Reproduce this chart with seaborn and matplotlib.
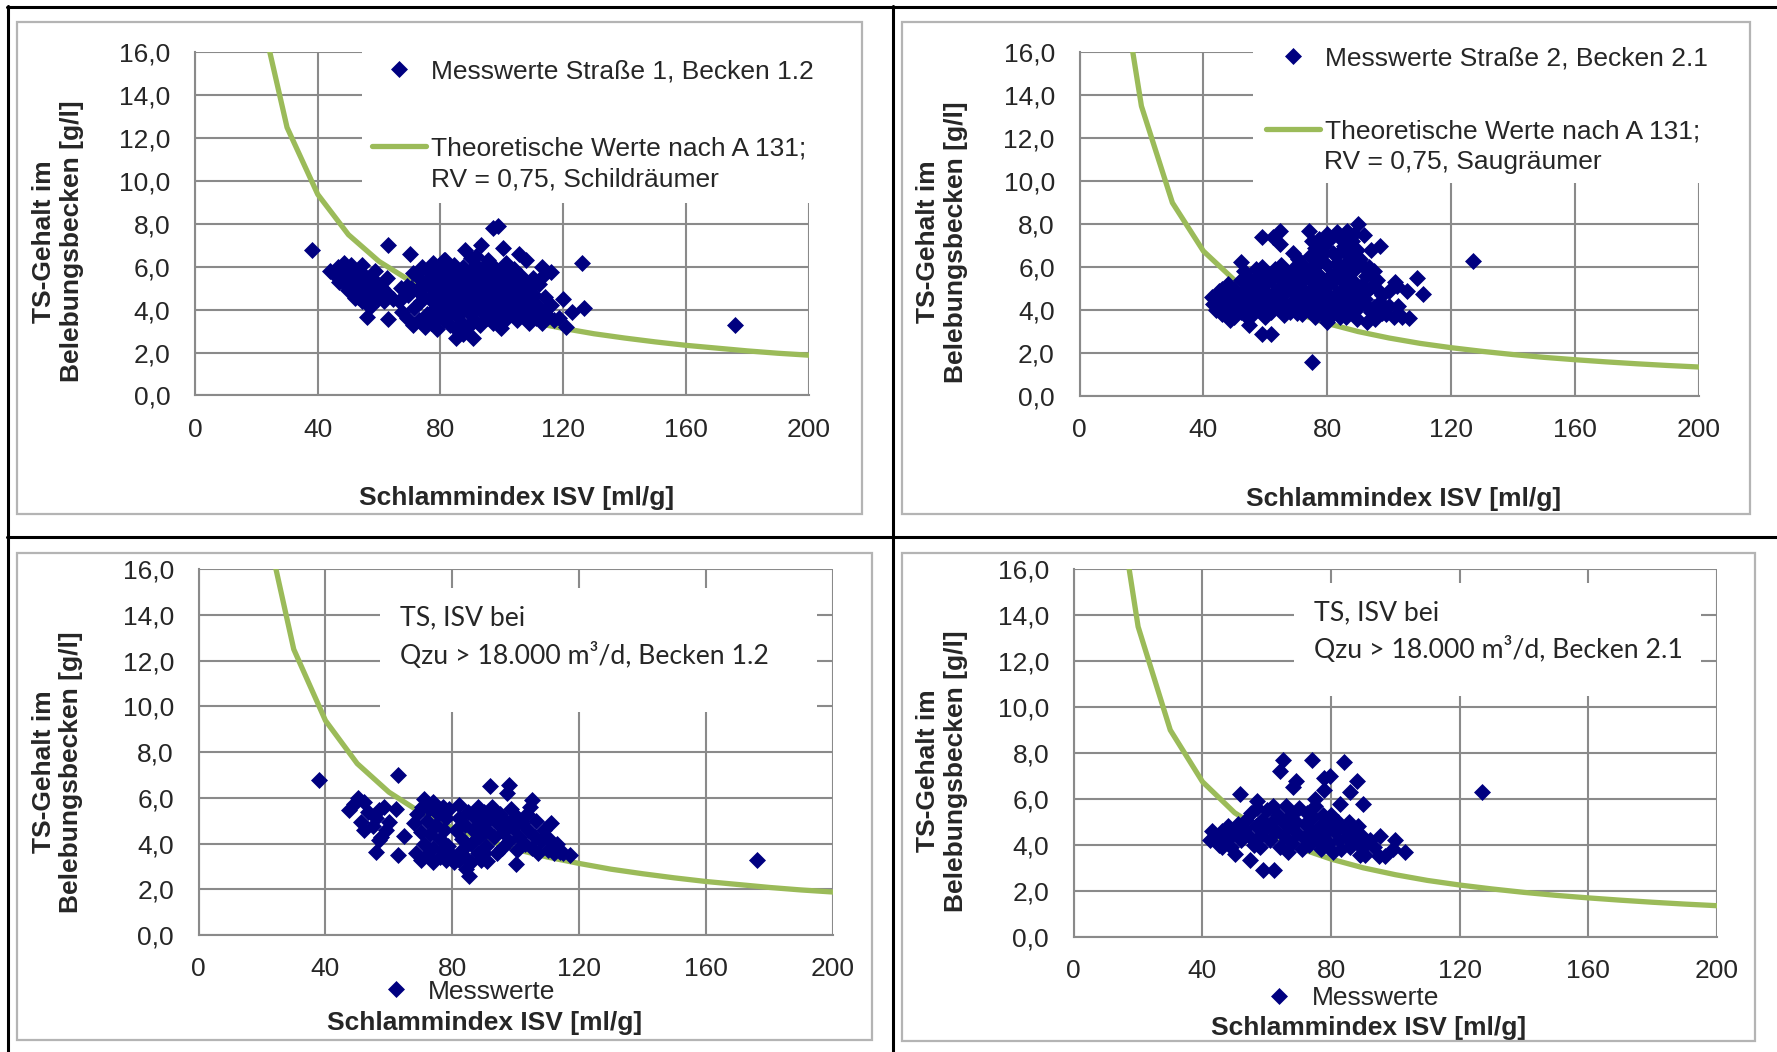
import matplotlib
matplotlib.use("Agg")
import matplotlib.pyplot as plt
from matplotlib.patches import Rectangle
from matplotlib.lines import Line2D
from matplotlib.ticker import MultipleLocator, FuncFormatter
import seaborn as sns

sns.set_style("white")
plt.rcParams['font.family'] = ['Liberation Sans', 'DejaVu Sans']

NAVY = '#000080'
GREEN = '#9BBB59'
GRID = '#8a8a8a'
FRAME = '#b4b4b4'

# --- theoretical curves (A 131, RV = 0,75) ---
isv_schild = [20, 30, 40, 50, 60, 70, 80, 90, 100, 110, 120, 130, 140, 150, 160, 170, 180, 190, 200]
ts_schild = [18.75, 12.5, 9.38, 7.5, 6.25, 5.36, 4.69, 4.17, 3.75, 3.41, 3.13, 2.88, 2.68, 2.5, 2.34,
             2.21, 2.08, 1.97, 1.88]
isv_saug = [15, 20, 30, 40, 50, 60, 70, 80, 90, 100, 110, 120, 130, 140, 150, 160, 170, 180, 190, 200]
ts_saug = [18.0, 13.5, 9.0, 6.75, 5.4, 4.5, 3.86, 3.38, 3.0, 2.7, 2.45, 2.25, 2.08, 1.93, 1.8,
           1.69, 1.59, 1.5, 1.42, 1.35]

mess_b12 = [
    (38, 6.8), (63, 7.0), (97, 7.8), (98.7, 7.9), (126, 6.2), (88, 6.8), (81, 6.3), (70, 6.6),
    (93.3, 7.0), (91.7, 6.5), (100.3, 6.9), (105.7, 6.6), (108, 6.3), (113, 6.0), (116, 5.75),
    (113.3, 5.55), (119.8, 4.5), (126.8, 4.1), (122.8, 3.9), (120.9, 3.2), (118.7, 3.6), (56, 3.65),
    (63, 3.55), (85.2, 2.7), (87.4, 2.85), (90.6, 2.7), (99.8, 3.15), (176, 3.3),
    (44, 5.8), (45.5, 5.6), (46.5, 6.0), (47.5, 5.7), (48.5, 6.2), (49.5, 5.9), (50.5, 5.6), (51, 6.1),
    (52, 5.4), (53, 5.8), (54.5, 6.1), (54, 5.3), (55, 5.6), (56, 5.1), (57, 5.5), (58, 4.9), (59, 5.3),
    (60, 4.7), (61, 5.0), (62.5, 5.5), (47, 5.3), (48, 5.5), (49, 5.2), (50, 4.9), (51.5, 5.0), (53, 4.6),
    (54.5, 4.4), (56.5, 4.3), (57.5, 4.6), (59.5, 4.5), (57, 4.15), (52, 4.55), (55, 4.9), (52.5, 5.2),
    (58.5, 5.8), (61.5, 4.4), (62.5, 4.8), (64.5, 4.5),
    (66.5, 4.4), (67.5, 3.9), (67, 5.0), (69, 3.6), (69.5, 4.7), (69, 5.1),
    (71, 3.3), (71.5, 4.1), (70.5, 5.0), (71, 5.7), (73, 3.5), (73.5, 4.4), (72.5, 4.9), (73, 5.5), (74, 6.0),
    (75, 3.2), (75.5, 3.8), (74.5, 4.6), (75, 5.2), (76, 5.8), (77, 3.4), (77.5, 4.0), (76.5, 4.5), (77, 5.0),
    (78, 5.5), (77.5, 6.2), (79, 3.1), (79.5, 3.7), (78.5, 4.3), (79, 4.8), (80, 5.3), (79.5, 5.9),
    (81, 3.5), (81.5, 4.1), (80.5, 4.6), (81, 5.1), (82, 5.6), (81.5, 6.3), (83, 3.3), (83.5, 3.9),
    (82.5, 4.4), (83, 4.9), (84, 5.4), (83.5, 5.9), (85, 3.1), (85.5, 3.7), (84.5, 4.2), (85, 4.7),
    (86, 5.2), (85.5, 5.7), (84.5, 6.1), (87, 3.4), (87.5, 4.0), (86.5, 4.5), (87, 5.0), (88, 5.5),
    (87.5, 6.0), (89, 3.2), (89.5, 3.8), (88.5, 4.3), (89, 4.8), (90, 5.3), (89.5, 5.8), (90, 6.4),
    (91, 3.5), (91.5, 4.1), (90.5, 4.6), (91, 5.1), (92, 5.6), (91.5, 6.1), (93, 3.3), (93.5, 3.9),
    (92.5, 4.4), (93, 4.9), (94, 5.4), (93.5, 5.9), (95, 3.6), (95.5, 4.2), (94.5, 4.7), (95, 5.2),
    (96, 5.7), (95.5, 6.3), (97, 3.4), (97.5, 4.0), (96.5, 4.5), (97, 5.0), (98, 5.5), (97.5, 6.0),
    (99, 3.7), (99.5, 4.3), (98.5, 4.8), (99, 5.3), (100, 5.8), (101, 3.5), (101.5, 4.1), (100.5, 4.6),
    (101, 5.1), (102, 5.6), (101.5, 6.2), (103, 3.8), (103.5, 4.4), (102.5, 4.9), (103, 5.4), (104, 5.9),
    (105, 3.5), (105.5, 4.1), (104.5, 4.6), (105, 5.1), (106, 5.6), (107, 3.7), (107.5, 4.3), (106.5, 4.8),
    (107, 5.3), (109, 3.4), (109.5, 4.0), (108.5, 4.5), (109, 5.0), (110, 5.5), (111, 3.6), (111.5, 4.2),
    (110.5, 4.7), (112, 5.2), (113, 3.4), (113.5, 3.9), (114, 4.6), (115, 3.7), (116, 4.2), (117, 3.5),
]

mess_b21 = [
    (127, 6.3), (75, 1.6), (59, 2.9), (62, 2.9), (90, 8.0), (74, 7.7), (64.8, 7.7), (59, 7.4), (80, 7.55),
    (83, 7.65), (86.5, 7.7), (88.5, 7.55), (92, 7.5), (97, 7.0), (94, 6.8), (69, 6.65), (70.7, 6.4),
    (64.8, 7.1), (62.6, 7.4), (76.7, 6.8), (78.8, 6.65), (82, 6.65), (84.2, 6.7), (86.4, 7.1), (87.4, 6.9),
    (52, 6.25), (71.8, 6.15), (109, 5.5), (102, 5.3), (102.5, 5.1), (105.8, 4.9), (110.9, 4.75), (95, 5.8),
    (93.4, 6.0), (91.2, 6.1), (96, 5.4), (97.7, 4.7), (99.8, 4.2), (92.3, 4.5), (95, 4.15), (97.7, 3.85),
    (101.5, 3.7), (106.3, 3.65), (89.6, 3.6), (92.8, 3.45), (42.7, 4.6), (43.2, 4.3), (48.6, 3.55),
    (54.9, 3.3), (53.5, 3.75), (65.9, 3.75), (70.2, 3.85), (79.9, 3.45), (84.2, 3.7),
    (75, 7.2), (76, 6.9), (77.5, 7.3), (79, 7.0), (81, 7.3), (84, 7.35), (85.5, 7.0), (88, 7.2), (89.5, 6.8),
    (90.5, 6.4), (88.5, 6.2), (87, 6.5), (78, 6.3), (74.5, 6.5), (76, 6.1), (80, 6.1), (83, 6.2),
    (85.5, 6.1), (89, 5.9), (92.5, 5.6), (94.5, 5.1), (93, 4.9),
    (44, 4.0), (44.5, 4.5), (45, 4.9), (46, 3.8), (46.5, 4.3), (47, 4.8), (46, 5.0), (48, 4.0), (48.5, 4.5),
    (49, 5.0), (48, 5.2), (50, 3.7), (50.5, 4.2), (51, 4.7), (50, 5.0), (52, 3.9), (52.5, 4.4), (53, 4.9),
    (52, 5.4), (53, 5.8), (54, 4.1), (54.5, 4.6), (55, 5.1), (54, 5.6), (56, 3.8), (56.5, 4.3), (57, 4.8),
    (56, 5.3), (57, 5.9), (58, 4.0), (58.5, 4.5), (59, 5.0), (58, 5.5), (59, 6.0), (60, 3.7), (60.5, 4.2),
    (61, 4.7), (60, 5.2), (61, 5.7), (62, 3.9), (62.5, 4.4), (63, 4.9), (62, 5.4), (63, 5.9), (64, 4.1),
    (64.5, 4.6), (65, 5.1), (64, 5.6), (65, 6.1), (66, 4.3), (66.5, 4.8), (67, 5.3), (66, 5.8), (68, 3.9),
    (68.5, 4.4), (69, 4.9), (68, 5.4), (69, 5.9), (70, 4.1), (70.5, 4.6), (71, 5.1), (70, 5.6), (72, 3.8),
    (72.5, 4.3), (73, 4.8), (72, 5.3), (73, 5.8), (74, 4.0), (74.5, 4.5), (75, 5.0), (74, 5.5), (76, 3.7),
    (76.5, 4.2), (77, 4.7), (76, 5.2), (77, 5.7), (78, 3.9), (78.5, 4.4), (79, 4.9), (78, 5.4), (80, 3.6),
    (80.5, 4.1), (81, 4.6), (80, 5.1), (81, 5.6), (82, 3.8), (82.5, 4.3), (83, 4.8), (82, 5.3), (83, 5.8),
    (84, 4.0), (84.5, 4.5), (85, 5.0), (84, 5.5), (86, 3.7), (86.5, 4.2), (87, 4.7), (86, 5.2), (87, 5.7),
    (88, 3.9), (88.5, 4.4), (89, 4.9), (88, 5.4), (90, 4.1), (90.5, 4.6), (91, 5.1),
    (93, 4.2), (95.5, 3.6), (97, 4.4), (99, 3.8), (100, 4.9), (103, 4.2), (104, 3.7), (96, 5.0), (94, 3.9),
]

mess_b12_q = [
    (38, 6.8), (63, 7.0), (91.8, 6.5), (97.8, 6.55), (97.3, 6.2), (105, 5.9), (85.4, 2.6), (84.2, 2.9),
    (100, 3.1), (56, 3.65), (63, 3.5), (91, 3.25), (117, 3.5), (114, 3.65), (71, 5.95), (82, 5.7), (176, 3.3),
    (50.2, 6.0), (49.1, 5.75), (47.5, 5.45), (52.3, 5.8), (53.3, 5.4), (51.2, 4.95), (52.3, 4.6), (57, 5.45),
    (58.5, 5.6), (55.9, 5.1), (60, 4.95), (57.5, 4.3), (57, 4.15), (62.2, 5.5), (64.8, 4.35), (54.9, 4.75),
    (59.1, 4.6),
    (68, 4.9), (69, 5.3), (70, 4.5), (70.5, 5.6), (71, 4.0), (72, 5.0), (72.5, 5.5), (73, 4.4), (74, 3.8),
    (74, 5.8), (75, 4.8), (75.5, 5.3), (76, 4.2), (77, 5.6), (77.5, 4.6), (78, 5.1), (78.5, 3.9), (79, 5.5),
    (68.5, 3.6), (70, 3.3), (72, 3.5), (74, 3.2), (76, 3.4), (78, 3.3), (80, 3.5), (82, 3.3), (84, 3.4),
    (86, 3.2), (88, 3.6), (89, 3.3), (77, 3.7), (80.5, 3.2), (83, 3.7),
    (81, 4.6), (82, 5.1), (83, 4.2), (84, 4.8), (85, 5.4), (86, 4.0), (86.5, 4.6), (87, 5.1), (88, 5.6),
    (88.5, 4.3), (89, 4.9), (90, 5.4), (90.5, 3.9), (91, 4.6), (92, 5.1), (92.5, 5.6), (93, 4.3), (94, 4.9),
    (95, 5.3), (95.5, 3.8), (96, 4.5), (97, 5.0), (98, 4.1), (98.5, 5.5), (99, 4.7), (100, 5.2), (100.5, 3.7),
    (101, 4.3), (102, 4.9), (103, 4.0), (103.5, 5.3), (104, 4.6), (105, 3.8), (106, 4.3), (106.5, 5.0),
    (107, 3.6), (108, 4.1), (109, 4.6), (110, 3.7), (110.5, 4.2), (112, 3.6), (111, 4.9), (113, 4.0),
    (115, 3.6), (104.5, 5.6), (90, 3.6), (94, 3.6),
]

mess_b21_q = [
    (126.9, 6.3), (64.2, 7.2), (68.3, 6.5), (69, 6.8), (77.7, 6.9), (79.7, 7.0), (77.9, 6.4), (88, 6.8),
    (86, 6.3), (82.8, 5.8), (89.9, 5.8), (51.7, 6.2), (65, 7.7), (74, 7.7), (84, 7.6), (54.8, 3.35),
    (58.8, 2.9), (62.1, 2.9), (50.2, 3.6), (46, 3.9), (42.9, 4.6), (42.4, 4.2), (103.1, 3.7), (100, 4.2),
    (95.3, 4.4), (94.8, 3.5), (96.8, 3.5), (90.6, 3.55), (89, 3.55), (92.2, 4.2), (93.2, 3.9), (99.4, 3.8),
    (44, 4.4), (45, 4.0), (46, 4.6), (47.5, 4.2), (48, 4.8), (49, 3.9), (50, 4.5), (51, 4.9), (52, 4.2),
    (53, 4.7), (53.5, 5.1), (54.5, 4.4), (55, 5.4), (56, 4.0), (56.5, 4.8), (57, 5.6), (58, 4.4), (58.5, 5.1),
    (59.5, 4.7), (60, 5.5), (61, 4.2), (61.5, 5.0), (62, 5.7), (63, 4.6), (63.5, 5.3), (64, 3.9), (65, 5.0),
    (65.5, 4.4), (66, 5.7), (67, 4.8), (67.5, 5.3), (68, 4.1), (69, 5.0), (69.5, 4.5), (70, 5.6), (71, 3.8),
    (71.5, 4.3), (72, 4.9), (72.5, 5.4), (73, 4.0), (74, 4.6), (74.5, 5.2), (75, 5.7), (76, 4.2), (76.5, 4.8),
    (77, 3.8), (77.5, 5.3), (78, 4.5), (79, 4.9), (79.5, 4.1), (80, 5.3), (80.5, 3.7), (81, 4.6), (82, 5.0),
    (82.5, 4.2), (83, 3.8), (84, 4.7), (85, 4.3), (85.5, 5.0), (86, 3.9), (87, 4.5), (88, 4.1), (88.5, 4.8),
    (89.5, 4.4), (90, 3.9), (58, 3.9), (66.5, 3.7), (57, 5.9), (75, 6.0),
]

W, H = 1777, 1052
fig = plt.figure(figsize=(W / 100, H / 100), dpi=100)


def fx(x):
    return x / W


def fy(y):
    return 1 - y / H


def comma(v, pos):
    return f"{v:.1f}".replace(".", ",")


panels = [
    dict(box=(195, 52.4, 808.7, 395.5), pts=mess_b12, cx=isv_schild, cy=ts_schild,
         pt_label="Messwerte Straße 1, Becken 1.2", line_label="Theoretische Werte nach A 131;",
         line_label2="RV = 0,75, Schildräumer", leg=(372, 59.4, 2.02), leg2=(431, 179.5),
         white=(54.4, 8.98, 206, 16.8), ylab=(-0.2238, 0.449), xlab=(0.524, -0.30)),
    dict(box=(1079.5, 52.4, 1698.8, 396), pts=mess_b21, cx=isv_saug, cy=ts_saug,
         pt_label="Messwerte Straße 2, Becken 2.1", line_label="Theoretische Werte nach A 131;",
         line_label2="RV = 0,75, Saugräumer", leg=(1266, 46.3, 1.87), leg2=(1324.4, 162.5),
         white=(56, 9.94, 206, 16.8), ylab=(-0.2223, 0.449), xlab=(0.524, -0.30)),
    dict(box=(198.6, 569.3, 833, 935), pts=mess_b12_q, cx=isv_schild, cy=ts_schild,
         pt_label="Messwerte", leg=(368.6, 991.7),
         note=("TS, ISV bei", "Qzu > 18.000 m³/d, Becken 1.2"), note_xy=(400, 618, 655),
         white=(57.2, 9.77, 195, 15.17), ylab=(-0.2223, 0.446), xlab=(0.451, -0.2404)),
    dict(box=(1073.8, 569.3, 1717, 936.7), pts=mess_b21_q, cx=isv_saug, cy=ts_saug,
         pt_label="Messwerte", leg=(1252, 998),
         note=("TS, ISV bei", "Qzu > 18.000 m³/d, Becken 2.1"), note_xy=(1314, 613, 650),
         white=(68.6, 10.5, 195, 15.4), ylab=(-0.2043, 0.451), xlab=(0.459, -0.2485)),
]

FS = 19
NOTE_FS = 19.2

for p in panels:
    x0, y0, x1, y1 = p["box"]
    ax = fig.add_axes([fx(x0), fy(y1), (x1 - x0) / W, (y1 - y0) / H])
    ax.set_axisbelow(True)

    # white background behind legend / note, hides the grid there
    wx0, wy0, wx1, wy1 = p["white"]
    ax.add_patch(Rectangle((wx0, wy0), wx1 - wx0, wy1 - wy0, facecolor="white",
                           edgecolor="none", zorder=1, clip_on=False))

    sns.lineplot(x=p["cx"], y=p["cy"], ax=ax, color=GREEN, linewidth=3.8, sort=False,
                 label=p.get("line_label", "_nolegend_"), zorder=2)
    isv = [a for a, b in p["pts"]]
    ts = [b for a, b in p["pts"]]
    sns.scatterplot(x=isv, y=ts, ax=ax, color=NAVY, marker="D", s=75, linewidth=0,
                    label=p["pt_label"], zorder=3)

    ax.set_xlim(0, 200)
    ax.set_ylim(0, 16)
    ax.xaxis.set_major_locator(MultipleLocator(40))
    ax.xaxis.set_minor_locator(MultipleLocator(20))
    ax.yaxis.set_major_locator(MultipleLocator(2))
    ax.yaxis.set_minor_locator(MultipleLocator(1))
    ax.yaxis.set_major_formatter(FuncFormatter(comma))
    ax.grid(True, which="major", color=GRID, linewidth=1.5)
    for s in ["top", "right"]:
        ax.spines[s].set_visible(False)
    for s in ["left", "bottom"]:
        ax.spines[s].set_color(GRID)
        ax.spines[s].set_linewidth(1.5)
    ax.tick_params(axis="y", which="major", direction="out", length=6, width=1.4, color=GRID,
                   pad=11.8, labelsize=FS)
    ax.tick_params(axis="y", which="minor", direction="out", length=4, width=1.4, color=GRID)
    ax.tick_params(axis="x", which="both", direction="out", length=3.6, width=1.4, color=GRID,
                   pad=12.4, labelsize=FS)

    ax.set_ylabel("TS-Gehalt im\nBelebungsbecken [g/l]", fontsize=FS, fontweight="bold")
    ax.yaxis.label.set_va("center")
    ax.yaxis.set_label_coords(*p["ylab"])
    ax.set_xlabel("Schlammindex ISV [ml/g]", fontsize=FS, fontweight="bold")
    ax.xaxis.label.set_va("center")
    ax.xaxis.set_label_coords(*p["xlab"])

    handles, labels = ax.get_legend_handles_labels()
    order = [labels.index(p["pt_label"])]
    if "line_label" in p:
        order.append(labels.index(p["line_label"]))
        lx, ly, lsp = p["leg"]
        ax.legend([handles[i] for i in order], [labels[i] for i in order], loc="upper left",
                  bbox_to_anchor=(fx(lx), fy(ly)), bbox_transform=fig.transFigure,
                  frameon=False, fontsize=FS, borderpad=0, borderaxespad=0,
                  handlelength=2.05, handletextpad=0.2, labelspacing=lsp,
                  scatteryoffsets=[0.5])
        tx, ty = p["leg2"]
        fig.text(fx(tx), fy(ty), p["line_label2"], fontsize=FS, ha="left", va="center")
    else:
        lx, ly = p["leg"]
        ax.legend([handles[i] for i in order], [labels[i] for i in order], loc="center left",
                  bbox_to_anchor=(fx(lx), fy(ly)), bbox_transform=fig.transFigure,
                  frameon=False, fontsize=FS, borderpad=0, borderaxespad=0,
                  handlelength=2.05, handletextpad=0.2, scatteryoffsets=[0.5])
        nx, ny1, ny2 = p["note_xy"]
        fig.text(fx(nx), fy(ny1), p["note"][0], fontsize=NOTE_FS, family=["Lato", "DejaVu Sans"],
                 ha="left", va="center")
        fig.text(fx(nx), fy(ny2), p["note"][1], fontsize=NOTE_FS, family=["Lato", "DejaVu Sans"],
                 ha="left", va="center")

# grey chart frames
for (a, b, c, d) in [(17, 22, 861.5, 514), (902, 22, 1750, 514), (17, 553, 872, 1040), (902, 553, 1755, 1041)]:
    fig.add_artist(Rectangle((fx(a), fy(d)), (c - a) / W, (d - b) / H, fill=False,
                             edgecolor=FRAME, linewidth=1.6, transform=fig.transFigure))

# black table lines
for (a, b, c, d) in [(6.5, 6.5, 1777, 6.5), (7.5, 5.5, 7.5, 1052), (893, 5.5, 893, 1052), (6.5, 536.5, 1777, 536.5)]:
    fig.add_artist(Line2D([fx(a), fx(c)], [fy(b), fy(d)], color="black", linewidth=2.2,
                          transform=fig.transFigure))

fig.savefig("out.png", dpi=100)
